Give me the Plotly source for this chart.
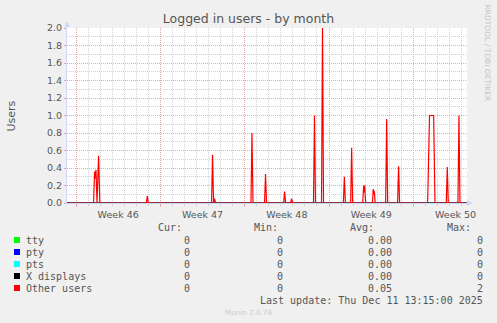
import plotly.graph_objects as go

# ---------------- data ----------------
other_users_time = [
    "2025-11-09 06:00",
    "2025-11-11 11:00", "2025-11-11 13:00", "2025-11-11 14:20", "2025-11-11 15:50",
    "2025-11-11 17:50", "2025-11-11 21:00", "2025-11-11 23:30",
    "2025-11-15 20:00", "2025-11-15 22:00", "2025-11-16 00:00",
    "2025-11-21 06:00", "2025-11-21 08:00", "2025-11-21 10:00", "2025-11-21 12:00", "2025-11-21 14:00",
    "2025-11-24 12:30", "2025-11-24 14:30", "2025-11-24 16:30",
    "2025-11-25 15:30", "2025-11-25 17:30", "2025-11-25 19:30",
    "2025-11-27 05:30", "2025-11-27 07:30", "2025-11-27 09:30",
    "2025-11-27 19:30", "2025-11-27 21:30", "2025-11-27 23:30",
    "2025-11-29 17:00", "2025-11-29 19:00", "2025-11-29 21:00",
    "2025-11-30 09:00", "2025-11-30 11:00", "2025-11-30 13:00",
    "2025-12-02 04:30", "2025-12-02 06:30", "2025-12-02 08:30",
    "2025-12-02 19:00", "2025-12-02 21:00", "2025-12-02 23:00",
    "2025-12-03 19:00", "2025-12-03 21:00", "2025-12-03 22:00", "2025-12-03 23:00", "2025-12-04 01:00",
    "2025-12-04 14:30", "2025-12-04 16:00", "2025-12-04 17:00", "2025-12-04 18:00", "2025-12-04 20:00",
    "2025-12-05 16:45", "2025-12-05 18:45", "2025-12-05 20:45",
    "2025-12-06 16:30", "2025-12-06 18:30", "2025-12-06 20:30",
    "2025-12-09 04:20", "2025-12-09 08:10", "2025-12-09 16:20", "2025-12-09 19:00",
    "2025-12-10 17:30", "2025-12-10 19:30", "2025-12-10 21:30",
    "2025-12-11 16:45", "2025-12-11 18:45", "2025-12-11 20:45",
    "2025-12-12 10:00",
]
other_users_value = [
    0,
    0, 0.36, 0.28, 0.38,
    0, 0.54, 0,
    0, 0.08, 0,
    0, 0.55, 0, 0.05, 0,
    0, 0.80, 0,
    0, 0.33, 0,
    0, 0.13, 0,
    0, 0.05, 0,
    0, 1.00, 0,
    0, 2.00, 0,
    0, 0.30, 0,
    0, 0.63, 0,
    0, 0.20, 0.12, 0.20, 0,
    0, 0.16, 0.10, 0.14, 0,
    0, 0.96, 0,
    0, 0.42, 0,
    0, 1.00, 1.00, 0,
    0, 0.41, 0,
    0, 1.00, 0,
    0,
]
zero_series_time = ["2025-11-09 06:00", "2025-12-12 10:00"]
zero_series_value = [0, 0]

series_names = ["tty", "pty", "pts", "X displays", "Other users"]
series_colors = ["#00FF00", "#0000FF", "#00FFFF", "#000000", "#FF0000"]
cur_vals = ["0", "0", "0", "0", "0"]
min_vals = ["0", "0", "0", "0", "0"]
avg_vals = ["0.00", "0.00", "0.00", "0.00", "0.05"]
max_vals = ["0", "0", "0", "0", "2"]

x_range = ["2025-11-09 06:05", "2025-12-12 10:46"]
y_range = [0, 2.0]

# ---------------- layout helpers ----------------
W, H = 497, 323
L, R, T, B = 67, 467, 28, 203
def px(x):
    return (x - L) / (R - L)
def py(y):
    return (B - y) / (B - T)

FONT = "DejaVu Sans"
MONO = "DejaVu Sans Mono"
TXT = "#555555"
AXIS = "#CFD6F8"
MGRID = "#E8A8A8"
GRID = "#D2D2D2"

fig = go.Figure()
for name, color in zip(series_names[:4], series_colors[:4]):
    fig.add_trace(go.Scatter(x=zero_series_time, y=zero_series_value, mode="lines",
                             line=dict(color=color, width=1), name=name, showlegend=False,
                             hoverinfo="skip"))
fig.add_trace(go.Scatter(x=other_users_time, y=other_users_value, mode="lines",
                         line=dict(color=series_colors[4], width=1.2),
                         name=series_names[4], showlegend=False))

annotations = []
shapes = []

# y-axis title
annotations.append(dict(text="Users", x=px(11), y=py(115.5), xref="paper", yref="paper",
                        textangle=-90, showarrow=False, font=dict(family=FONT, size=11, color=TXT),
                        xanchor="center", yanchor="middle"))
# side watermark
annotations.append(dict(text="RRDTOOL / TOBI OETIKER", x=px(487.5), y=py(53), xref="paper", yref="paper",
                        textangle=90, showarrow=False, font=dict(family=FONT, size=7.5, color="#C4C4C4"),
                        xanchor="center", yanchor="middle"))

# legend table
hdr_y = 227.5
row_y = [240, 252, 264, 276, 288]
def mono(text, x, y, anchor="left", color=TXT):
    annotations.append(dict(text=text, x=px(x), y=py(y), xref="paper", yref="paper",
                            showarrow=False, xanchor=anchor, yanchor="middle",
                            borderpad=0, borderwidth=0,
                            font=dict(family=MONO, size=10, color=color)))

mono("Cur:", 158, hdr_y)
mono("Min:", 254, hdr_y)
mono("Avg:", 350, hdr_y)
mono("Max:", 446.7, hdr_y)
for i, name in enumerate(series_names):
    y = row_y[i]
    shapes.append(dict(type="rect", xref="paper", yref="paper",
                       x0=px(14), x1=px(20), y0=py(y + 3), y1=py(y - 3),
                       fillcolor=series_colors[i], line=dict(width=0)))
    mono(name, 26, y)
    mono(cur_vals[i], 190, y, "right")
    mono(min_vals[i], 283, y, "right")
    mono(avg_vals[i], 391.5, y, "right")
    mono(max_vals[i], 483, y, "right")
mono("Last update: Thu Dec 11 13:15:00 2025", 483, 300, "right")
annotations.append(dict(text="Munin 2.0.76", x=px(248), y=py(312), xref="paper", yref="paper",
                        showarrow=False, xanchor="center", yanchor="middle",
                        font=dict(family=FONT, size=7.2, color="#CCCCCC")))

# axis arrows
shapes.append(dict(type="line", xref="paper", yref="paper", x0=1, x1=px(468), y0=0, y1=0,
                   line=dict(color=AXIS, width=1)))
shapes.append(dict(type="path", xref="paper", yref="paper",
                   path=f"M {px(473)} {py(203)} L {px(467)} {py(200)} L {px(467)} {py(206)} Z",
                   fillcolor=AXIS, line=dict(width=0)))
shapes.append(dict(type="line", xref="paper", yref="paper", x0=0, x1=0, y0=1, y1=py(26),
                   line=dict(color=AXIS, width=1)))
shapes.append(dict(type="path", xref="paper", yref="paper",
                   path=f"M {px(67)} {py(21)} L {px(64)} {py(27)} L {px(70)} {py(27)} Z",
                   fillcolor=AXIS, line=dict(width=0)))

fig.update_layout(
    width=W, height=H,
    margin=dict(l=L, r=W - R, t=T, b=H - B),
    paper_bgcolor="#F0F0F0", plot_bgcolor="#FFFFFF",
    title=dict(text="Logged in users - by month", x=0.5, xref="container", xanchor="center",
               y=1 - 19 / H, yref="container", yanchor="middle",
               font=dict(family=FONT, size=12.5, color=TXT)),
    font=dict(family=FONT, color=TXT),
    showlegend=False,
    annotations=annotations,
    shapes=shapes,
    xaxis=dict(type="date", range=x_range, tick0="2025-11-10", dtick=7 * 86400000,
               tickformat="Week %V", ticklabelmode="period",
               tickfont=dict(family=FONT, size=9.5, color=TXT),
               showgrid=True, gridcolor=MGRID, griddash="1px,1px", gridwidth=1,
               ticks="outside", ticklen=3, tickcolor=MGRID,
               minor=dict(dtick=86400000, showgrid=True, gridcolor=GRID, griddash="1px,1px",
                          ticks="outside", ticklen=2, tickcolor=GRID),
               showline=True, linecolor=AXIS, linewidth=1, zeroline=False, fixedrange=True),
    yaxis=dict(range=y_range, dtick=0.2, tick0=0, tickformat=".1f",
               tickfont=dict(family=FONT, size=9.5, color=TXT),
               showgrid=True, gridcolor=MGRID, griddash="1px,1px", gridwidth=1,
               ticks="outside", ticklen=2, tickcolor=MGRID,
               minor=dict(dtick=0.1, showgrid=True, gridcolor=GRID, griddash="1px,1px"),
               showline=True, linecolor=AXIS, linewidth=1, zeroline=False, fixedrange=True),
)

fig.write_html("out.html")
